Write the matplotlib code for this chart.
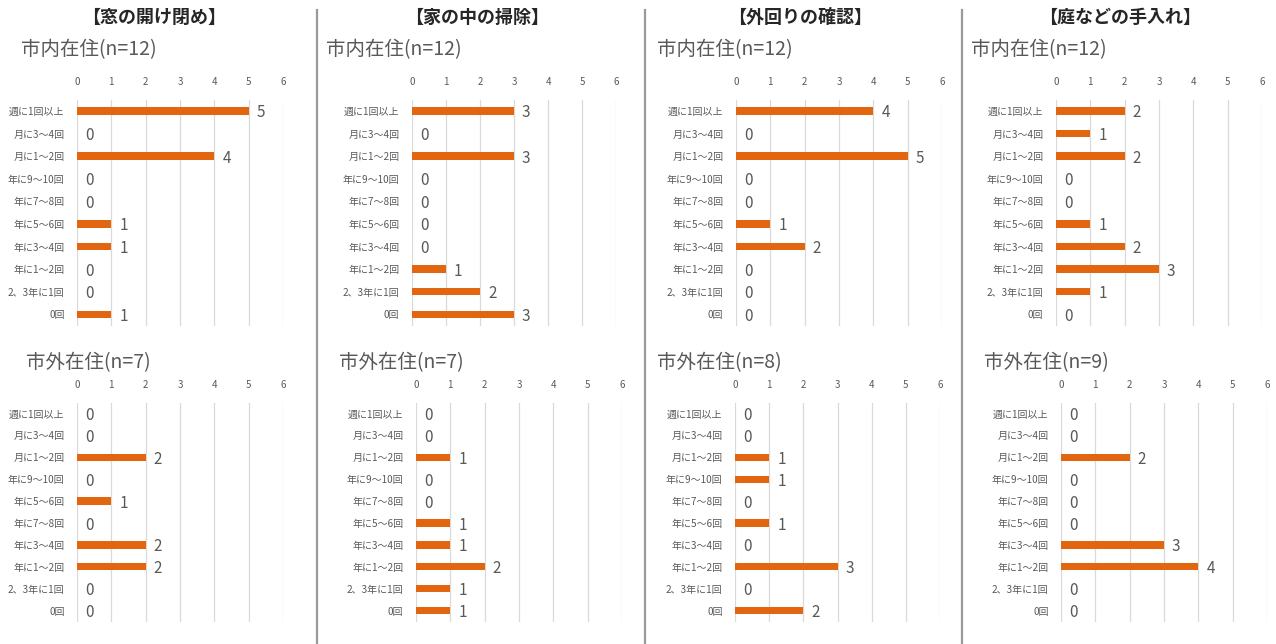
import matplotlib
matplotlib.use("Agg")
import matplotlib.pyplot as plt
from matplotlib.lines import Line2D

plt.rcParams['font.family'] = ['Noto Sans CJK JP', 'DejaVu Sans']

# ---------------- data ----------------
categories = ["週に1回以上", "月に3～4回", "月に1～2回", "年に9～10回", "年に7～8回",
              "年に5～6回", "年に3～4回", "年に1～2回", "2、3年に1回", "0回"]
# first column, lower chart lists 年に5～6回 before 年に7～8回
categories_alt = ["週に1回以上", "月に3～4回", "月に1～2回", "年に9～10回", "年に5～6回",
                  "年に7～8回", "年に3～4回", "年に1～2回", "2、3年に1回", "0回"]

column_titles = ["【窓の開け閉め】", "【家の中の掃除】", "【外回りの確認】", "【庭などの手入れ】"]
inside_titles = ["市内在住(n=12)", "市内在住(n=12)", "市内在住(n=12)", "市内在住(n=12)"]
outside_titles = ["市外在住(n=7)", "市外在住(n=7)", "市外在住(n=8)", "市外在住(n=9)"]

window_inside = [5, 0, 4, 0, 0, 1, 1, 0, 0, 1]
window_outside = [0, 0, 2, 0, 1, 0, 2, 2, 0, 0]
cleaning_inside = [3, 0, 3, 0, 0, 0, 0, 1, 2, 3]
cleaning_outside = [0, 0, 1, 0, 0, 1, 1, 2, 1, 1]
exterior_inside = [4, 0, 5, 0, 0, 1, 2, 0, 0, 0]
exterior_outside = [0, 0, 1, 1, 0, 1, 0, 3, 0, 2]
garden_inside = [2, 1, 2, 0, 0, 1, 2, 3, 1, 0]
garden_outside = [0, 0, 2, 0, 0, 0, 3, 4, 0, 0]

x_ticks = [0, 1, 2, 3, 4, 5, 6]

# ---------------- layout ----------------
W, H = 1276, 644
fig = plt.figure(figsize=(W / 100, H / 100), dpi=100)
fig.patch.set_facecolor('white')

BAR = '#E2660F'
GREY = '#595959'
GRID = '#D9D9D9'

def px_axes(x0, x6, ytop, ybot):
    return fig.add_axes([x0 / W, 1 - ybot / H, (x6 - x0) / W, (ybot - ytop) / H])

def draw(ax, cats, vals):
    n = len(cats)
    ypos = list(range(n))
    ax.barh(ypos, vals, height=0.33, color=BAR, zorder=3)
    ax.set_xlim(0, 6)
    ax.set_ylim(n - 0.5, -0.5)
    ax.set_xticks(x_ticks)
    ax.set_xticklabels([str(t) for t in x_ticks])
    ax.xaxis.tick_top()
    ax.tick_params(axis='x', length=0, pad=9, labelsize=7, labelcolor=GREY)
    ax.set_yticks(ypos)
    ax.set_yticklabels(cats)
    ax.tick_params(axis='y', length=0, pad=9, labelsize=7.2, labelcolor=GREY)
    for s in ax.spines.values():
        s.set_visible(False)
    ax.grid(axis='x', color=GRID, linewidth=0.9, zorder=0)
    ax.set_axisbelow(True)
    for y, v in zip(ypos, vals):
        ax.annotate(str(v), xy=(v, y), xytext=(8, -2), textcoords='offset pixels',
                    ha='left', va='center', fontsize=11, color=GREY,
                    annotation_clip=False)

# pixel geometry of each panel (x at 0, x at 6)
top_x = [(77, 283), (412, 616), (736, 942), (1056, 1262)]
bot_x = [(77, 283), (416, 622), (735, 940), (1061, 1267)]
TOP_Y = (99.7, 325.6)
BOT_Y = (402.5, 621.6)

inside_vals = [window_inside, cleaning_inside, exterior_inside, garden_inside]
outside_vals = [window_outside, cleaning_outside, exterior_outside, garden_outside]
outside_cats = [categories_alt, categories, categories, categories]

col_title_x = [154, 477, 800, 1120]
sub_top_x = [21, 326, 657, 971]
sub_bot_x = [26, 339, 657, 984]

for i in range(4):
    ax = px_axes(top_x[i][0], top_x[i][1], *TOP_Y)
    draw(ax, categories, inside_vals[i])
    ax2 = px_axes(bot_x[i][0], bot_x[i][1], *BOT_Y)
    draw(ax2, outside_cats[i], outside_vals[i])

    fig.text(col_title_x[i] / W, 1 - 17 / H, column_titles[i], ha='center', va='center',
             fontsize=13, fontweight='bold', color='#262626')
    fig.text(sub_top_x[i] / W, 1 - 50 / H, inside_titles[i], ha='left', va='center',
             fontsize=14, color=GREY)
    fig.text(sub_bot_x[i] / W, 1 - 363 / H, outside_titles[i], ha='left', va='center',
             fontsize=14, color=GREY)

# vertical separators
for xs in [317, 645, 962]:
    fig.add_artist(Line2D([xs / W, xs / W], [0, 1 - 10 / H], color='#9A9A9A', linewidth=1.6))

fig.savefig('out.png', dpi=100, facecolor='white')
